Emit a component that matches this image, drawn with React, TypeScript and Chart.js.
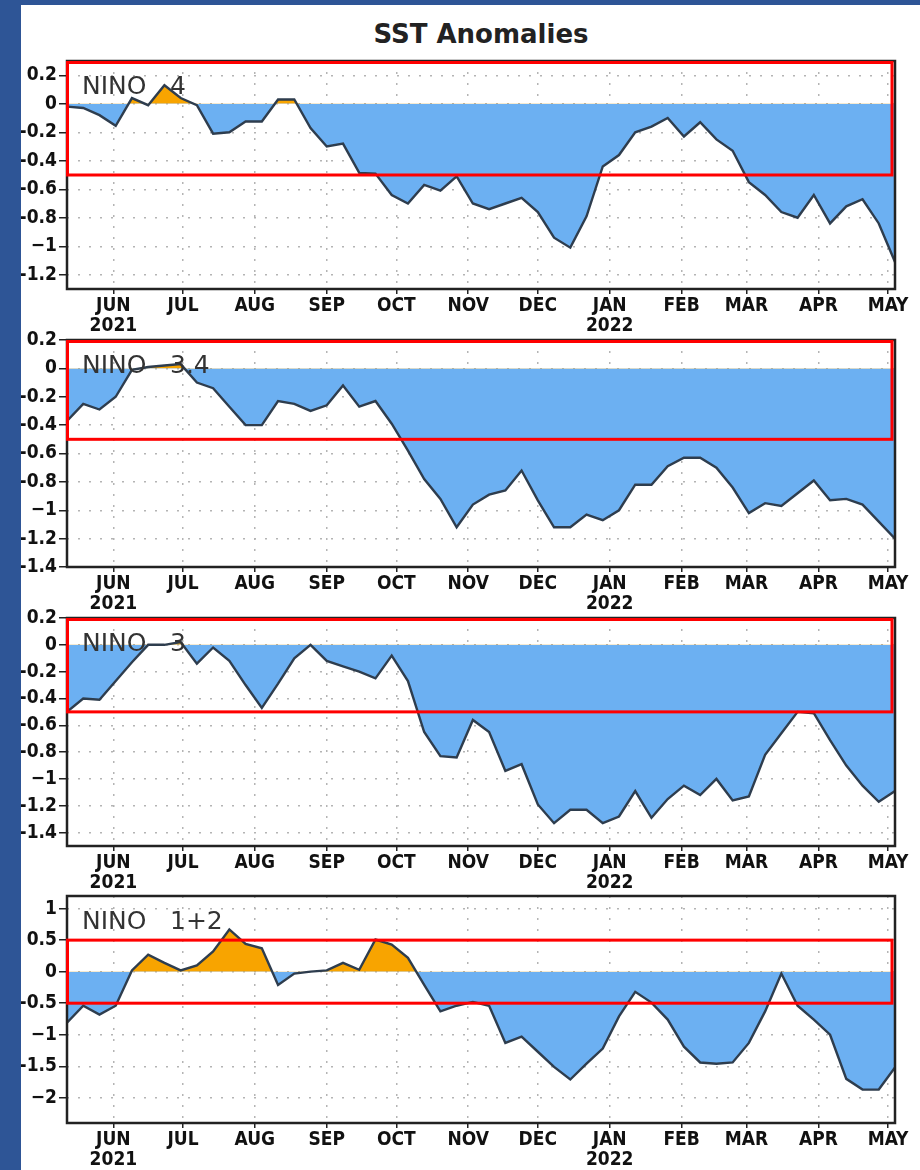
import React, { useEffect, useRef } from "react";
import { Chart, registerables } from "chart.js";

Chart.register(...registerables);

// ---------- data ----------
const FIRST_WEEK = "2021-05-12";
const LAST_DAY = "2022-05-04";

const monthTickDates = [
  "2021-06-01", "2021-07-01", "2021-08-01", "2021-09-01", "2021-10-01", "2021-11-01",
  "2021-12-01", "2022-01-01", "2022-02-01", "2022-03-01", "2022-04-01", "2022-05-01",
];
const monthTickLabels = ["JUN", "JUL", "AUG", "SEP", "OCT", "NOV", "DEC", "JAN", "FEB", "MAR", "APR", "MAY"];
const yearTickLabels = ["2021", "", "", "", "", "", "", "2022", "", "", "", ""];

const nino4 = [
  -0.02, -0.03, -0.08, -0.155, 0.04, -0.01, 0.13, 0.04, -0.01, -0.21,
  -0.2, -0.125, -0.125, 0.03, 0.03, -0.17, -0.3, -0.28, -0.485, -0.49,
  -0.64, -0.7, -0.57, -0.61, -0.51, -0.7, -0.74, -0.7, -0.66, -0.76,
  -0.94, -1.01, -0.79, -0.44, -0.36, -0.2, -0.16, -0.1, -0.23, -0.13,
  -0.25, -0.33, -0.55, -0.64, -0.76, -0.8, -0.64, -0.84, -0.72, -0.67,
  -0.84, -1.11,
];
const nino34 = [
  -0.37, -0.25, -0.29, -0.2, -0.01, 0.01, 0.02, 0.03, -0.1, -0.14,
  -0.27, -0.4, -0.4, -0.23, -0.25, -0.3, -0.26, -0.12, -0.27, -0.23,
  -0.39, -0.58, -0.78, -0.92, -1.12, -0.96, -0.89, -0.86, -0.72, -0.93,
  -1.12, -1.12, -1.03, -1.07, -1.0, -0.82, -0.82, -0.69, -0.63, -0.63,
  -0.7, -0.84, -1.02, -0.95, -0.97, -0.88, -0.79, -0.93, -0.92, -0.96,
  -1.08, -1.2,
];
const nino3 = [
  -0.5, -0.4, -0.41, -0.27, -0.13, 0.0, 0.0, 0.02, -0.14, -0.02,
  -0.12, -0.3, -0.47, -0.29, -0.1, 0.0, -0.12, -0.16, -0.2, -0.25,
  -0.08, -0.27, -0.65, -0.83, -0.84, -0.56, -0.65, -0.94, -0.89, -1.19,
  -1.33, -1.23, -1.23, -1.33, -1.28, -1.09, -1.29, -1.15, -1.05, -1.12,
  -1.0, -1.16, -1.13, -0.82, -0.66, -0.5, -0.51, -0.71, -0.9, -1.05,
  -1.17, -1.09,
];
const nino12 = [
  -0.81, -0.54, -0.68, -0.54, 0.02, 0.27, 0.14, 0.02, 0.1, 0.32,
  0.67, 0.44, 0.37, -0.21, -0.03, 0.0, 0.02, 0.14, 0.03, 0.51,
  0.43, 0.22, -0.21, -0.63, -0.54, -0.48, -0.54, -1.13, -1.03, -1.27,
  -1.51, -1.71, -1.46, -1.22, -0.71, -0.32, -0.49, -0.76, -1.19, -1.44,
  -1.46, -1.44, -1.13, -0.63, -0.03, -0.54, -0.76, -1.0, -1.7, -1.87,
  -1.87, -1.52,
];

const nino4Ticks = [0.2, 0, -0.2, -0.4, -0.6, -0.8, -1, -1.2];
const nino34Ticks = [0.2, 0, -0.2, -0.4, -0.6, -0.8, -1, -1.2, -1.4];
const nino3Ticks = [0.2, 0, -0.2, -0.4, -0.6, -0.8, -1, -1.2, -1.4];
const nino12Ticks = [1, 0.5, 0, -0.5, -1, -1.5, -2];

const nino4Range = [-1.3, 0.3];
const nino34Range = [-1.4, 0.2];
const nino3Range = [-1.5, 0.2];
const nino12Range = [-2.4, 1.2];

const regionNames = ["4", "3.4", "3", "1+2"];
const redBand = [0.5, -0.5];

// ---------- helpers ----------
const DAY = 86400000;
const dayOf = (d: string) => (Date.parse(d + "T00:00:00Z") - Date.parse(FIRST_WEEK + "T00:00:00Z")) / DAY;
const monthTickDays = monthTickDates.map(dayOf);
const xMax = dayOf(LAST_DAY);

const BLUE = "#6cb0f2";
const ORANGE = "#f8a400";
const LINE = "#2e3d4e";
const TICK_FONT = { family: '"DejaVu Sans Condensed", "DejaVu Sans", sans-serif', size: 19, weight: "bold" as const, lineHeight: 1.05 };

const fmtY = (v: number) => {
  if (Math.abs(v) < 1e-9) return "0";
  if (Number.isInteger(v)) return v < 0 ? "\u2212" + Math.abs(v) : String(v);
  return String(v);
};

const overlayPlugin = {
  id: "ninoOverlay",
  afterDatasetsDraw(chart: any, _args: any, opts: any) {
    const { ctx, chartArea: a, scales } = chart;
    ctx.save();
    // region label
    ctx.fillStyle = "#333";
    ctx.font = '25px "DejaVu Sans", sans-serif';
    ctx.textBaseline = "alphabetic";
    ctx.fillText("NINO", a.left + 15, a.top + 33);
    ctx.fillText(opts.name, a.left + 103, a.top + 33);
    // frame
    ctx.strokeStyle = "#222";
    ctx.lineWidth = 2.5;
    ctx.strokeRect(a.left, a.top, a.right - a.left, a.bottom - a.top);
    // red +-0.5 band
    const y = scales.y;
    const top = Math.max(y.getPixelForValue(redBand[0]), a.top + 1.5);
    const bot = y.getPixelForValue(redBand[1]);
    ctx.strokeStyle = "#ff0000";
    ctx.lineWidth = 3;
    ctx.strokeRect(a.left + 0.5, top, a.right - 3 - a.left - 0.5, bot - top);
    ctx.restore();
  },
};

type PanelProps = {
  top: number;
  plotH: number;
  values: number[];
  ticks: number[];
  range: number[];
  name: string;
};

const PAD_TOP = 12;
const X_AXIS_H = 48;
const CANVAS_W = 899;

function Panel({ top, plotH, values, ticks, range, name }: PanelProps) {
  const ref = useRef<HTMLCanvasElement | null>(null);
  const h = plotH + PAD_TOP + X_AXIS_H;
  useEffect(() => {
    if (!ref.current) return;
    const chart = new Chart(ref.current, {
      type: "line",
      data: {
        datasets: [
          {
            data: values.map((v, i) => ({ x: i * 7, y: v })),
            borderColor: LINE,
            borderWidth: 2.4,
            pointRadius: 0,
            tension: 0,
            fill: { target: { value: 0 }, above: ORANGE, below: BLUE },
          },
        ],
      },
      options: {
        animation: false,
        responsive: false,
        maintainAspectRatio: false,
        devicePixelRatio: 1,
        layout: { padding: { top: PAD_TOP, right: 25, left: 0, bottom: 0 } },
        plugins: {
          legend: { display: false },
          tooltip: { enabled: false },
          ninoOverlay: { name },
        } as any,
        scales: {
          x: {
            type: "linear",
            min: 0,
            max: xMax,
            afterBuildTicks: (s: any) => {
              s.ticks = monthTickDays.map((v) => ({ value: v }));
            },
            afterFit: (s: any) => {
              s.height = X_AXIS_H;
            },
            ticks: {
              autoSkip: false,
              maxRotation: 0,
              minRotation: 0,
              padding: 2,
              color: "#111",
              font: TICK_FONT,
              callback: (v: any) => {
                const i = monthTickDays.indexOf(Number(v));
                if (i < 0) return "";
                return yearTickLabels[i] ? [monthTickLabels[i], yearTickLabels[i]] : monthTickLabels[i];
              },
            },
            grid: { color: "#b4b4b4", lineWidth: 1.5, tickLength: 5, tickColor: "#222", tickWidth: 1.5 },
            border: { display: false, dash: [2, 9] },
          },
          y: {
            type: "linear",
            min: range[0],
            max: range[1],
            afterBuildTicks: (s: any) => {
              s.ticks = ticks.map((v) => ({ value: v }));
            },
            afterFit: (s: any) => {
              s.width = 46;
            },
            ticks: {
              padding: 2,
              color: "#111",
              font: TICK_FONT,
              callback: (v: any) => fmtY(Number(v)),
            },
            grid: { color: "#b4b4b4", lineWidth: 1.5, tickLength: 8, tickColor: "#222", tickWidth: 1.5 },
            border: { display: false, dash: [2, 9] },
          },
        },
      } as any,
      plugins: [overlayPlugin],
    });
    return () => chart.destroy();
  }, []);
  return (
    <canvas
      ref={ref}
      width={CANVAS_W}
      height={h}
      style={{ position: "absolute", left: 21, top: top - PAD_TOP, width: CANVAS_W, height: h }}
    />
  );
}

export default function App() {
  return (
    <div
      style={{
        position: "absolute",
        left: 0,
        top: 0,
        width: 920,
        height: 1170,
        overflow: "hidden",
        background: "#ffffff",
      }}
    >
      <div style={{ position: "absolute", left: 0, top: 0, width: 920, height: 5, background: "#2e5596" }} />
      <div style={{ position: "absolute", left: 0, top: 0, width: 21, height: 1170, background: "#2e5596" }} />
      <div
        style={{
          position: "absolute",
          left: 281,
          top: 19,
          width: 400,
          textAlign: "center",
          fontFamily: '"DejaVu Sans", sans-serif',
          fontWeight: "bold",
          fontSize: 26,
          lineHeight: "30px",
          color: "#222",
        }}
      >
        SST Anomalies
      </div>
      <Panel top={61} plotH={228} values={nino4} ticks={nino4Ticks} range={nino4Range} name={regionNames[0]} />
      <Panel top={340} plotH={227} values={nino34} ticks={nino34Ticks} range={nino34Range} name={regionNames[1]} />
      <Panel top={618} plotH={228} values={nino3} ticks={nino3Ticks} range={nino3Range} name={regionNames[2]} />
      <Panel top={896} plotH={227} values={nino12} ticks={nino12Ticks} range={nino12Range} name={regionNames[3]} />
    </div>
  );
}
